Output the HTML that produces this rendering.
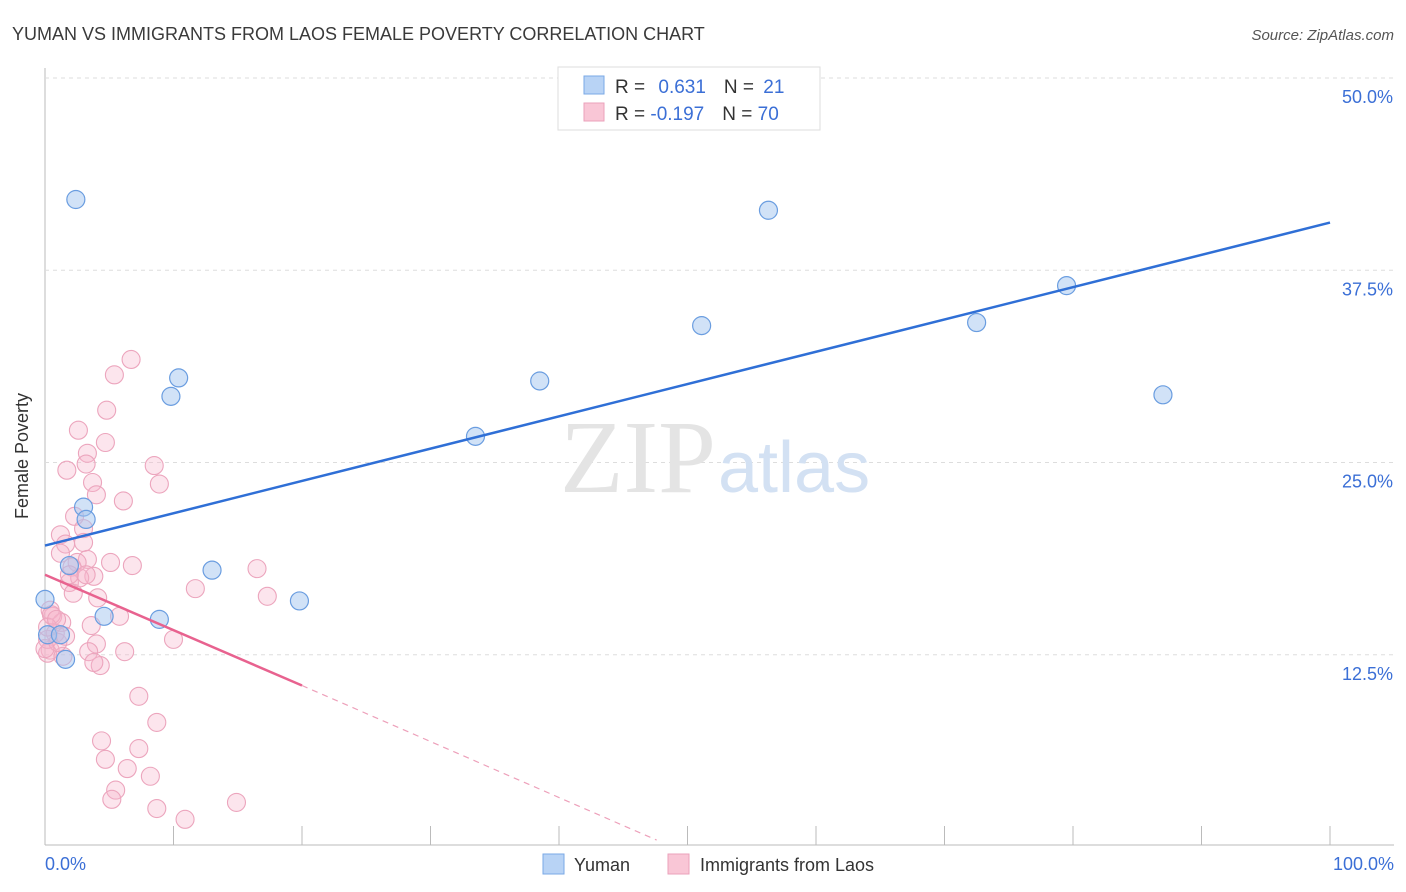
<!DOCTYPE html>
<html><head><meta charset="utf-8"><style>
body{margin:0;background:#fff;font-family:"Liberation Sans",sans-serif}
svg{display:block}
</style></head><body>
<svg width="1406" height="892" xmlns="http://www.w3.org/2000/svg">
<text x="12" y="40" font-size="18" fill="#3a3a3a">YUMAN VS IMMIGRANTS FROM LAOS FEMALE POVERTY CORRELATION CHART</text>
<text x="1394" y="40" font-size="15" fill="#555" font-style="italic" text-anchor="end">Source: ZipAtlas.com</text>
<text x="28" y="456" font-size="18" fill="#333" text-anchor="middle" transform="rotate(-90 28 456)">Female Poverty</text>
<g id="grid"></g>
<text x="716" y="492" font-size="104" fill="#e4e4e4" text-anchor="end" font-family="Liberation Serif,serif">ZIP</text>
<text x="718" y="492" font-size="72" fill="#d3e1f3">atlas</text>
<g id="marks"></g>
<g>
<rect x="558" y="67" width="262" height="63" fill="#fff" stroke="#ddd"/>
<rect x="584" y="76" width="20" height="18" fill="#b8d3f5" stroke="#7aa8e6"/>
<rect x="584" y="103" width="20" height="18" fill="#f9c6d6" stroke="#eba1bb"/>
<text x="615" y="93" font-size="19" fill="#333">R = <tspan fill="#3b6fd6" dx="8">0.631</tspan><tspan dx="18" fill="#333">N = </tspan><tspan fill="#3b6fd6" dx="4">21</tspan></text>
<text x="615" y="120" font-size="19" fill="#333">R = <tspan fill="#3b6fd6" dx="0">-0.197</tspan><tspan dx="18" fill="#333">N = </tspan><tspan fill="#3b6fd6" dx="0">70</tspan></text>
</g>
<text x="45" y="870" font-size="18" fill="#3b6fd6">0.0%</text>
<text x="1394" y="870" font-size="18" fill="#3b6fd6" text-anchor="end">100.0%</text>
<g>
<rect x="543" y="854" width="21" height="20" fill="#b8d3f5" stroke="#7aa8e6"/>
<text x="574" y="871" font-size="18" fill="#333">Yuman</text>
<rect x="668" y="854" width="21" height="20" fill="#f9c6d6" stroke="#eba1bb"/>
<text x="700" y="871" font-size="18" fill="#333">Immigrants from Laos</text>
</g>
</svg>
<script>
const yTicks=[12.5,25,37.5,50];
const yTickLabels=["12.5%","25.0%","37.5%","50.0%"];
const yumanX=[2.4,3.0,3.2,1.9,4.6,1.6,0,0.2,1.2,8.9,13.0,9.8,10.4,19.8,33.5,38.5,51.1,56.3,72.5,79.5,87.0];
const yumanY=[42.1,22.1,21.3,18.3,15.0,12.2,16.1,13.8,13.8,14.8,18.0,29.3,30.5,16.0,26.7,30.3,33.9,41.4,34.1,36.5,29.4];
const laosX=[6.7,5.4,4.8,2.6,4.7,3.3,3.2,1.7,8.5,8.9,3.7,4.0,6.1,2.3,3.0,1.2,1.6,3.0,5.1,6.8,3.3,2.5,3.8,2.1,1.9,2.2,2.7,11.7,16.5,17.3,5.8,3.6,10.0,4.0,3.4,6.2,4.3,3.8,0.6,0.4,1.3,0.8,0.4,0.2,0.2,1.4,7.3,8.7,4.4,7.3,4.7,6.4,8.2,5.5,5.2,8.7,10.9,14.9,0.5,1.0,0.2,0.9,1.6,1.9,3.2,4.1,1.2,0.0];
const laosY=[31.7,30.7,28.4,27.1,26.3,25.6,24.9,24.5,24.8,23.6,23.7,22.9,22.5,21.5,20.7,20.3,19.7,19.8,18.5,18.3,18.7,18.5,17.6,18.2,17.2,16.5,17.5,16.8,18.1,16.3,15.0,14.4,13.5,13.2,12.7,12.7,11.8,12.0,15.0,15.4,14.6,13.9,12.8,12.6,13.5,12.4,9.8,8.1,6.9,6.4,5.7,5.1,4.6,3.7,3.1,2.5,1.8,2.9,15.1,13.3,14.3,14.8,13.7,17.7,17.7,16.2,19.1,12.9];
const yumanTrend=[[0,19.6],[100,40.6]];
const laosTrend=[[0,17.7],[20,10.5],[47.6,0.45]];
const NS="http://www.w3.org/2000/svg";
const X0=45,X1=1330,Y0=847,YSCALE=15.38;
const sx=v=>X0+(X1-X0)*v/100, sy=v=>Y0-v*YSCALE;
function mk(t,a,p){const e=document.createElementNS(NS,t);for(const k in a)e.setAttribute(k,a[k]);p.appendChild(e);return e;}
const grid=document.getElementById('grid'),marks=document.getElementById('marks');
const ax=mk('line',{x1:X0,y1:68,x2:X0,y2:845,stroke:'#bbb'},grid);


const bx=mk('line',{x1:X0,y1:845,x2:1394,y2:845,stroke:'#bbb'},grid);


for(let i=1;i<=10;i++){const t=mk('line',{x1:sx(i*10),y1:826,x2:sx(i*10),y2:845,stroke:'#bbb'},grid);

}
yTicks.forEach((v,i)=>{const g=mk('line',{x1:X0,y1:sy(v),x2:1394,y2:sy(v),stroke:'#ddd','stroke-dasharray':'4,4'},grid);


const t=mk('text',{x:1393,y:sy(v)+25,'font-size':18,fill:'#3b6fd6','text-anchor':'end'},grid);t.textContent=yTickLabels[i];

});
laosX.forEach((v,i)=>{const c=mk('circle',{cx:sx(v),cy:sy(laosY[i]),r:9,fill:'rgba(246,180,203,0.35)',stroke:'#eca5bd','stroke-width':1.1},marks);

});
yumanX.forEach((v,i)=>{const c=mk('circle',{cx:sx(v),cy:sy(yumanY[i]),r:9,fill:'rgba(164,198,240,0.5)',stroke:'#6a9de0','stroke-width':1.2},marks);

});
const bl=mk('line',{x1:sx(yumanTrend[0][0]),y1:sy(yumanTrend[0][1]),x2:sx(yumanTrend[1][0]),y2:sy(yumanTrend[1][1]),stroke:'#2f6fd6','stroke-width':2.5},marks);


const pl=mk('line',{x1:sx(laosTrend[0][0]),y1:sy(laosTrend[0][1]),x2:sx(laosTrend[1][0]),y2:sy(laosTrend[1][1]),stroke:'#e8628f','stroke-width':2.5},marks);


const pd=mk('line',{x1:sx(laosTrend[1][0]),y1:sy(laosTrend[1][1]),x2:sx(laosTrend[2][0]),y2:sy(laosTrend[2][1]),stroke:'#eda0ba','stroke-width':1.2,'stroke-dasharray':'6,5'},marks);


</script>
</body></html>
